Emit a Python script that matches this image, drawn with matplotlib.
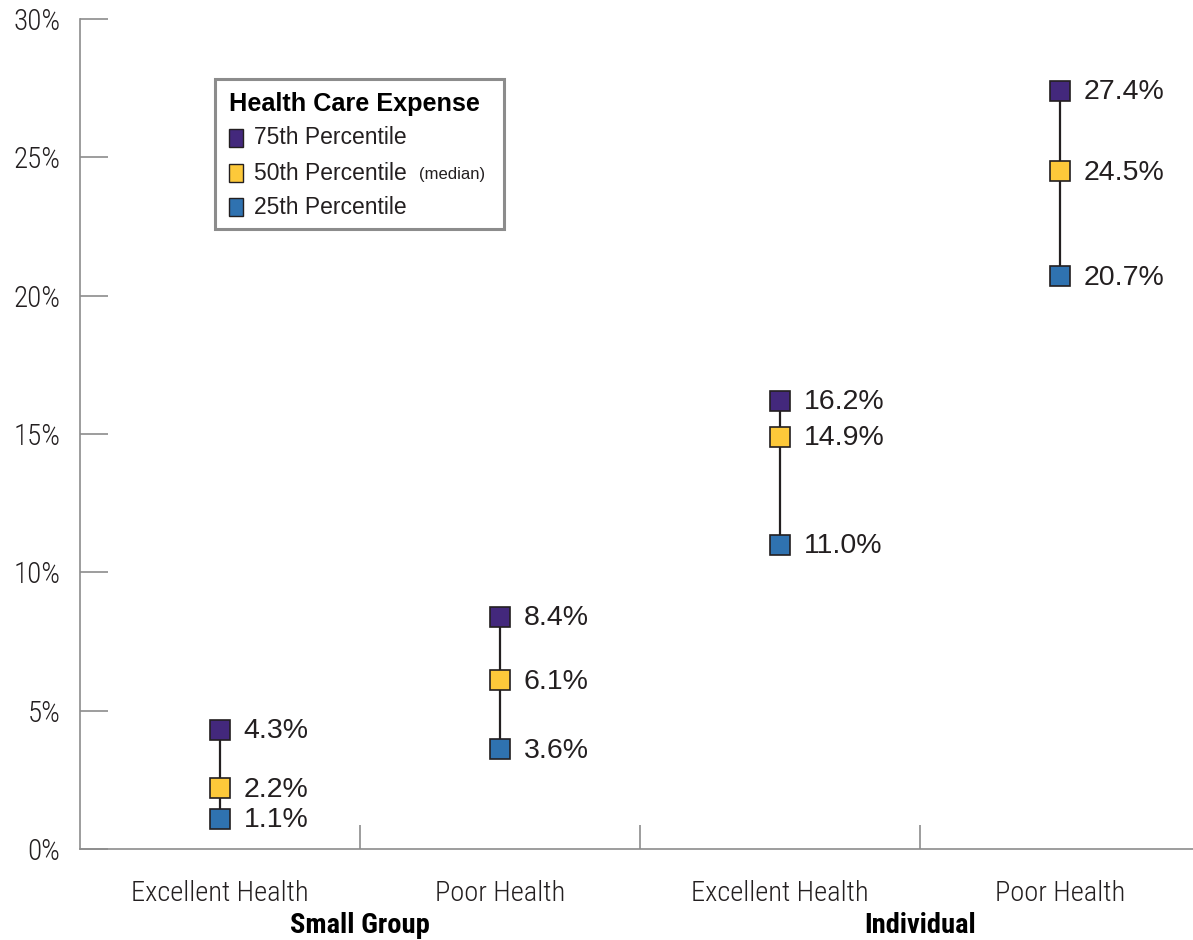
import matplotlib
matplotlib.use('Agg')
import matplotlib.pyplot as plt
from matplotlib.patches import Rectangle

# ── Data ───────────────────────────────────────────────────────────
categories = ['Excellent Health', 'Poor Health', 'Excellent Health', 'Poor Health']
groups     = ['Small Group', 'Individual']
p75 = [4.3, 8.4, 16.2, 27.4]
p50 = [2.2, 6.1, 14.9, 24.5]
p25 = [1.1, 3.6, 11.0, 20.7]
yticks = [0, 5, 10, 15, 20, 25, 30]

PURPLE = '#43287C'
YELLOW = '#FDC93A'
BLUE   = '#2F72B0'
EDGE   = '#231F20'
TEXT   = '#231F20'
GRAY   = '#8C8C8C'

COND = ['Roboto Condensed', 'DejaVu Sans']
SANS = ['Liberation Sans', 'DejaVu Sans']

W, H = 1193, 940
fig = plt.figure(figsize=(W / 100, H / 100), dpi=100)
fig.patch.set_facecolor('white')

def fx(px):
    return px / W

def fy(py):
    return 1 - py / H

# each category slot is 280 px wide; the plot runs off the right edge a little
ax = fig.add_axes([fx(80), fy(849), 1 - fx(80), fy(19) - fy(849)])
ax.set_xlim(0, (W - 80) / 280)
ax.set_ylim(0, 30)

xs = [i + 0.5 for i in range(len(categories))]

# whiskers between 25th and 75th percentile
for x, lo, hi in zip(xs, p25, p75):
    ax.plot([x, x], [lo, hi], color=EDGE, lw=1.6, zorder=2, solid_capstyle='butt')

for vals, col in [(p75, PURPLE), (p50, YELLOW), (p25, BLUE)]:
    ax.plot(xs, vals, 's', ms=14, mfc=col, mec=EDGE, mew=1.2, zorder=3)
    for x, v in zip(xs, vals):
        ax.annotate(f'{v:.1f}%', xy=(x, v), xytext=(17, -1), textcoords='offset points',
                    va='center', ha='left', fontsize=20.5, color=TEXT, family=SANS)

# axes styling
for s in ['top', 'right']:
    ax.spines[s].set_visible(False)
for s in ['left', 'bottom']:
    ax.spines[s].set_color(GRAY)
    ax.spines[s].set_linewidth(1.2)

ax.set_yticks(yticks)
ax.set_yticklabels([f'{t}%' for t in yticks], family=COND, fontweight=300,
                   fontsize=21, color=TEXT)
ax.tick_params(axis='y', direction='in', length=20, width=1.2, color=GRAY, pad=14)

ax.set_xticks(xs)
ax.set_xticklabels(categories, family=COND, fontweight=300, fontsize=20.5, color=TEXT)
ax.tick_params(axis='x', length=0, pad=22)

# group separators rising from the baseline
ax.set_xticks([1, 2, 3], minor=True)
ax.tick_params(axis='x', which='minor', direction='in', length=17, width=1.2, color=GRAY)

# group labels
for i, g in enumerate(groups):
    ax.annotate(g, xy=(2 * i + 1, 0), xytext=(0, -55), textcoords='offset points',
                ha='center', va='center', fontsize=20.5, fontweight='bold',
                family=COND, color='black', annotation_clip=False)

# legend box
fig.patches.append(Rectangle((fx(215), fy(229)), fx(504) - fx(215), fy(79) - fy(229),
                             transform=fig.transFigure, facecolor='white',
                             edgecolor=GRAY, lw=2.2, zorder=5))
fig.text(fx(229), fy(104), 'Health Care Expense', fontsize=18.2, fontweight='bold',
         family=SANS, color='black', va='center', ha='left', zorder=6)
legend_rows = [(PURPLE, '75th Percentile', 138), (YELLOW, '50th Percentile', 173),
               (BLUE, '25th Percentile', 207)]
for col, lab, py in legend_rows:
    fig.patches.append(Rectangle((fx(229), fy(py + 9)), fx(14), fy(0) - fy(18),
                                 transform=fig.transFigure, facecolor=col,
                                 edgecolor=EDGE, lw=1.0, zorder=6))
    fig.text(fx(254), fy(py), lab, fontsize=16.5, family=SANS, color=TEXT,
             va='center', ha='left', zorder=6)
fig.text(fx(419), fy(175), '(median)', fontsize=12, family=SANS, color=TEXT,
         va='center', ha='left', zorder=6)

fig.savefig('out.png', dpi=100, facecolor='white')
